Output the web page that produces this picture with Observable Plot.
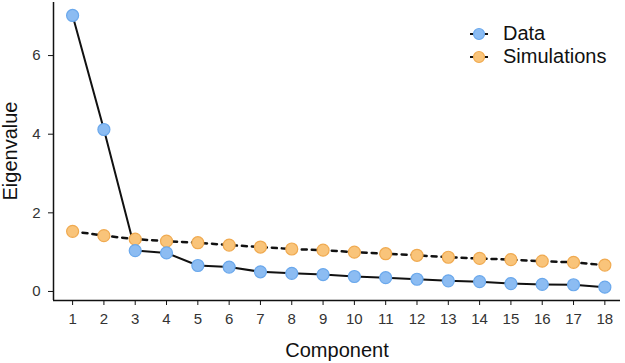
<!DOCTYPE html>
<html><head><meta charset="utf-8">
<script src="https://cdn.jsdelivr.net/npm/d3@7"></script>
<script src="https://cdn.jsdelivr.net/npm/@observablehq/plot@0.6"></script>
<style>
body{margin:0;background:#fff;font-family:"Liberation Sans",Arial,sans-serif;}
#wrap{position:relative;width:625px;height:363px;}
#legend{position:absolute;left:468px;top:22px;font-size:20px;color:#111;line-height:23px;}
#legend div{display:flex;align-items:center;height:23px;}
#legend svg{margin-right:13px;}
</style></head><body>
<div id="wrap"><div id="chart"></div>
<div id="legend"></div></div>
<script>
const components = [1,2,3,4,5,6,7,8,9,10,11,12,13,14,15,16,17,18];
const dataEigen = [7.02,4.12,1.04,0.98,0.66,0.62,0.50,0.46,0.43,0.38,0.35,0.31,0.27,0.25,0.20,0.18,0.17,0.11];
const simEigen = [1.53,1.42,1.33,1.28,1.24,1.18,1.13,1.08,1.05,1.00,0.96,0.92,0.87,0.84,0.81,0.77,0.74,0.67];
const yTicks = [0,2,4,6];
const seriesNames = ["Data","Simulations"];
const fills = ["#8cbcf2","#f9c47a"];
const strokes = ["#6aa8ec","#f0aa50"];

const dData = components.map((c,i)=>({c, v:dataEigen[i]}));
const dSim = components.map((c,i)=>({c, v:simEigen[i]}));

const chart = Plot.plot({
  width:625, height:363,
  marginLeft:53, marginRight:5, marginTop:2, marginBottom:63,
  style:{fontFamily:"Liberation Sans, Arial, sans-serif", fontSize:"15px", color:"#333", background:"#fff"},
  x:{domain:[0.39,18.5], ticks:components, tickFormat:d=>String(d), label:null},
  y:{domain:[-0.23,7.35], ticks:yTicks, label:null},
  marks:[
    Plot.axisX({ticks:components, tickSize:5, tickPadding:8, fontSize:15, fill:"#333", stroke:"#111", label:null}),
    Plot.axisY({ticks:yTicks, tickSize:5, tickPadding:8, fontSize:15, fill:"#333", stroke:"#111", label:null}),
    Plot.ruleX([0.39], {stroke:"#111", strokeWidth:1.5}),
    Plot.ruleY([-0.23], {stroke:"#111", strokeWidth:1.5}),
    Plot.line(dSim, {x:"c", y:"v", stroke:"#111", strokeWidth:2.5, strokeDasharray:"5,5"}),
    Plot.line(dData, {x:"c", y:"v", stroke:"#111", strokeWidth:2}),
    Plot.dot(dSim, {x:"c", y:"v", r:6, fill:fills[1], stroke:strokes[1], strokeWidth:1.2}),
    Plot.dot(dData, {x:"c", y:"v", r:6, fill:fills[0], stroke:strokes[0], strokeWidth:1.2})
  ]
});
document.getElementById("chart").appendChild(chart);

// axis titles
const svg = d3.select(chart);
svg.append("text").attr("x",337).attr("y",357).attr("text-anchor","middle")
  .attr("font-size",20).attr("fill","#111").text("Component");
svg.append("text").attr("transform","translate(17,151) rotate(-90)").attr("text-anchor","middle")
  .attr("font-size",20).attr("fill","#111").text("Eigenvalue");

// legend
const leg = document.getElementById("legend");
seriesNames.forEach((name,i)=>{
  const row = document.createElement("div");
  row.innerHTML = `<svg width="22" height="14"><line x1="2" x2="20" y1="7" y2="7" stroke="#111" stroke-width="2" ${i===1?'stroke-dasharray="5,8"':''}/><circle cx="11" cy="7" r="5.5" fill="${fills[i]}" stroke="${strokes[i]}" stroke-width="1.2"/></svg><span>${name}</span>`;
  leg.appendChild(row);
});
</script></body></html>
